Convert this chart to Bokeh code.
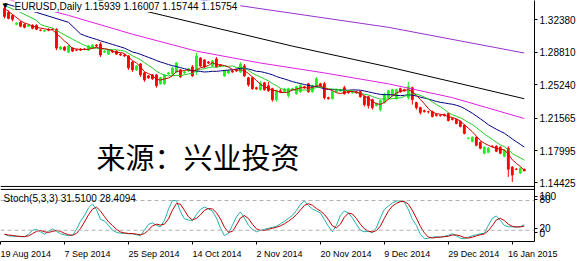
import numpy as np
from bokeh.plotting import figure
from bokeh.models import Range1d, FixedTicker, Label, Span, CustomJSTickFormatter
from bokeh.embed import file_html
from bokeh.resources import INLINE

# ---------------- data (EURUSD daily) ----------------
opens = [
    1.3364, 1.3320, 1.3287, 1.3189, 1.3211, 1.3189, 1.3167, 1.3178, 1.3178, 1.3124,
    1.3113, 1.3134, 1.3134, 1.3134, 1.2916, 1.2938, 1.2883, 1.2927, 1.2905, 1.2916,
    1.2916, 1.2905, 1.2927, 1.2960, 1.2971, 1.2883, 1.2861, 1.2894, 1.2894, 1.2861,
    1.2851, 1.2840, 1.2774, 1.2687, 1.2752, 1.2654, 1.2621, 1.2632, 1.2632, 1.2534,
    1.2534, 1.2643, 1.2643, 1.2665, 1.2687, 1.2654, 1.2676, 1.2720, 1.2665, 1.2818,
    1.2796, 1.2774, 1.2731, 1.2807, 1.2741, 1.2621, 1.2654, 1.2676, 1.2687, 1.2665,
    1.2731, 1.2600, 1.2600, 1.2491, 1.2469, 1.2545, 1.2512, 1.2480, 1.2360, 1.2458,
    1.2447, 1.2403, 1.2469, 1.2425, 1.2447, 1.2502, 1.2534, 1.2447, 1.2513, 1.2534,
    1.2534, 1.2382, 1.2371, 1.2447, 1.2458, 1.2491, 1.2447, 1.2436, 1.2447, 1.2447,
    1.2392, 1.2392, 1.2360, 1.2294, 1.2250, 1.2327, 1.2382, 1.2403, 1.2371, 1.2480,
    1.2469, 1.2382, 1.2491, 1.2327, 1.2272, 1.2239, 1.2228, 1.2228, 1.2196, 1.2185,
    1.2196, 1.2207, 1.2152, 1.2141, 1.2119, 1.2076, 1.1934, 1.1901, 1.1945, 1.1890,
    1.1770, 1.1781, 1.1847, 1.1847, 1.1836, 1.1738, 1.1825, 1.1617, 1.1595, 1.1552,
    1.15939]
highs = [
    1.3386, 1.3342, 1.3298, 1.3211, 1.3222, 1.3200, 1.3189, 1.3189, 1.3189, 1.3134,
    1.3124, 1.3145, 1.3145, 1.3145, 1.2949, 1.2949, 1.2960, 1.2938, 1.2916, 1.2927,
    1.2927, 1.2960, 1.2971, 1.2971, 1.2993, 1.2905, 1.2916, 1.2905, 1.2905, 1.2872,
    1.2861, 1.2851, 1.2785, 1.2741, 1.2763, 1.2665, 1.2632, 1.2643, 1.2643, 1.2611,
    1.2643, 1.2665, 1.2720, 1.2774, 1.2698, 1.2676, 1.2709, 1.2741, 1.2873, 1.2829,
    1.2807, 1.2785, 1.2796, 1.2829, 1.2752, 1.2687, 1.2687, 1.2687, 1.2698, 1.2774,
    1.2752, 1.2611, 1.2611, 1.2502, 1.2567, 1.2556, 1.2556, 1.2491, 1.2469, 1.2480,
    1.2491, 1.2491, 1.2491, 1.2513, 1.2534, 1.2513, 1.2545, 1.2524, 1.2611, 1.2545,
    1.2556, 1.2392, 1.2458, 1.2480, 1.2480, 1.2513, 1.2458, 1.2458, 1.2458, 1.2458,
    1.2403, 1.2403, 1.2371, 1.2327, 1.2360, 1.2436, 1.2469, 1.2480, 1.2480, 1.2491,
    1.2480, 1.2556, 1.2502, 1.2338, 1.2283, 1.2250, 1.2239, 1.2239, 1.2207, 1.2196,
    1.2207, 1.2218, 1.2163, 1.2152, 1.2130, 1.2087, 1.1945, 1.1956, 1.1956, 1.1901,
    1.1847, 1.1836, 1.1858, 1.1858, 1.1847, 1.1814, 1.1847, 1.1628, 1.1606, 1.1617,
    1.16007]
lows = [
    1.3254, 1.3244, 1.3222, 1.3178, 1.3156, 1.3145, 1.3156, 1.3134, 1.3124, 1.3113,
    1.3102, 1.3113, 1.3124, 1.2905, 1.2905, 1.2894, 1.2872, 1.2883, 1.2894, 1.2894,
    1.2905, 1.2894, 1.2916, 1.2938, 1.2829, 1.2872, 1.2851, 1.2872, 1.2851, 1.2840,
    1.2829, 1.2687, 1.2665, 1.2676, 1.2611, 1.2556, 1.2589, 1.2578, 1.2491, 1.2524,
    1.2524, 1.2632, 1.2632, 1.2654, 1.2600, 1.2643, 1.2665, 1.2611, 1.2633, 1.2720,
    1.2709, 1.2752, 1.2720, 1.2709, 1.2720, 1.2611, 1.2643, 1.2654, 1.2665, 1.2654,
    1.2611, 1.2502, 1.2469, 1.2469, 1.2458, 1.2458, 1.2447, 1.2338, 1.2338, 1.2436,
    1.2436, 1.2382, 1.2458, 1.2414, 1.2436, 1.2480, 1.2436, 1.2436, 1.2491, 1.2502,
    1.2360, 1.2360, 1.2360, 1.2436, 1.2447, 1.2414, 1.2425, 1.2425, 1.2425, 1.2382,
    1.2283, 1.2261, 1.2250, 1.2283, 1.2228, 1.2316, 1.2371, 1.2392, 1.2360, 1.2436,
    1.2447, 1.2360, 1.2305, 1.2250, 1.2195, 1.2218, 1.2207, 1.2163, 1.2174, 1.2174,
    1.2174, 1.2119, 1.2130, 1.2087, 1.2054, 1.1978, 1.1923, 1.1890, 1.1847, 1.1814,
    1.1759, 1.1770, 1.1836, 1.1781, 1.1759, 1.1727, 1.1508, 1.1454, 1.1584, 1.1541,
    1.15744]
closes = [
    1.3276, 1.3254, 1.3244, 1.3200, 1.3167, 1.3156, 1.3178, 1.3145, 1.3134, 1.3122,
    1.3122, 1.3124, 1.3132, 1.2927, 1.2938, 1.2905, 1.2949, 1.2894, 1.2903, 1.2905,
    1.2914, 1.2949, 1.2960, 1.2949, 1.2851, 1.2894, 1.2905, 1.2883, 1.2861, 1.2851,
    1.2840, 1.2709, 1.2687, 1.2731, 1.2633, 1.2578, 1.2600, 1.2589, 1.2513, 1.2600,
    1.2632, 1.2654, 1.2709, 1.2763, 1.2611, 1.2665, 1.2698, 1.2621, 1.2840, 1.2731,
    1.2720, 1.2763, 1.2785, 1.2720, 1.2731, 1.2676, 1.2676, 1.2665, 1.2676, 1.2752,
    1.2621, 1.2524, 1.2480, 1.2480, 1.2545, 1.2469, 1.2458, 1.2360, 1.2458, 1.2447,
    1.2469, 1.2480, 1.2480, 1.2502, 1.2513, 1.2491, 1.2447, 1.2513, 1.2589, 1.2513,
    1.2382, 1.2371, 1.2447, 1.2469, 1.2469, 1.2425, 1.2436, 1.2447, 1.2436, 1.2392,
    1.2305, 1.2294, 1.2272, 1.2316, 1.2349, 1.2414, 1.2458, 1.2469, 1.2469, 1.2447,
    1.2458, 1.2502, 1.2360, 1.2272, 1.2218, 1.2228, 1.2226, 1.2174, 1.2185, 1.2183,
    1.2185, 1.2130, 1.2141, 1.2098, 1.2065, 1.1989, 1.1936, 1.1945, 1.1858, 1.1825,
    1.1836, 1.1825, 1.1845, 1.1792, 1.1770, 1.1803, 1.1595, 1.1530, 1.1593, 1.1606,
    1.15754]

# moving-average lead-in values (before enough bars exist)
red_lead_idx = [0, 2]
red_lead_val = [1.3364, 1.3298]
green_lead_idx = [0, 4, 8]
green_lead_val = [1.3396, 1.3320, 1.3233]
navy_lead_idx = [0, 8, 16]
navy_lead_val = [1.3418, 1.3320, 1.3211]

# longer moving averages
magenta_idx = [0, 16, 32, 48, 64, 80, 96, 112, 130]
magenta_val = [1.3473, 1.3287, 1.3080, 1.2894, 1.2763, 1.2654, 1.2534, 1.2382, 1.2152]
black_idx = [0, 24, 48, 72, 96, 112, 130]
black_val = [1.3724, 1.3451, 1.3200, 1.2949, 1.2720, 1.2556, 1.2370]
purple_idx = [0, 50, 96, 130]
purple_val = [1.3880, 1.3451, 1.3156, 1.2873]

# Stochastic %K (5,3,3)
stoch_k = [
    12, 9, 8, 8, 7, 7, 12, 20, 22, 17,
    12, 18, 23, 18, 13, 11, 9, 10, 22, 38,
    50, 65, 73, 62, 42, 39, 30, 20, 16, 14,
    14, 13, 13, 11, 9, 20, 32, 35, 30, 27,
    40, 62, 80, 80, 58, 43, 41, 39, 52, 62,
    67, 63, 59, 45, 25, 9, 14, 30, 47, 57,
    45, 30, 22, 17, 20, 22, 24, 26, 28, 33,
    38, 44, 50, 60, 72, 79, 70, 63, 59, 55,
    42, 28, 17, 30, 50, 59, 55, 45, 32, 20,
    17, 18, 15, 25, 45, 62, 69, 75, 79, 79,
    77, 62, 42, 30, 12, 3, 4, 6, 7, 6,
    8, 10, 13, 9, 4, 3, 6, 9, 11, 13,
    14, 30, 44, 49, 40, 30, 27, 27, 26.5, 27.2,
    31.51]

price_ticks = [1.32380, 1.28810, 1.25240, 1.21565, 1.17995, 1.14425]
date_tick_idx = [-1, 15, 31, 47, 63, 79, 95, 111, 127]
date_labels = ["19 Aug 2014", "7 Sep 2014", "25 Sep 2014", "14 Oct 2014", "2 Nov 2014",
               "20 Nov 2014", "9 Dec 2014", "29 Dec 2014", "16 Jan 2015"]
stoch_levels = [20, 80]
stoch_scale_labels = ["100", "80", "20", "0"]

# ---------------- derived series ----------------
O = np.array(opens); H = np.array(highs); L = np.array(lows); C = np.array(closes)
n = len(C)
idx = np.arange(n)


def sma(arr, w):
    return np.convolve(arr, np.ones(w) / w, mode="valid")


def ma_line(w, lead_i, lead_v):
    xs = list(lead_i) + list(range(w - 1, n))
    ys = list(lead_v) + list(sma(C, w))
    return xs, ys


K = np.array(stoch_k, dtype=float)
D = np.array([K[max(0, i - 2):i + 1].mean() for i in range(n)])

# ---------------- layout helpers (pixel -> data for annotations) ----------------
FONT = "Liberation Sans"
FRAME_W, FRAME_H = 534, 243
X0, X1 = -1.0, 132.55
PX_PER_BAR = FRAME_W / (X1 - X0)
P_TOP, P_PER_PX = 1.3451, 0.0010915      # price scale of the upper pane
S_ZERO_PX, S_PER_PX = 241.7, 2.0         # stochastic scale of the lower pane


def px_x(px):
    return X0 + px / PX_PER_BAR


def px_y(py):
    return P_TOP - P_PER_PX * py


def px_s(py):
    return (S_ZERO_PX - py) * S_PER_PX


# approximate Liberation Sans advance widths (em) to centre date labels
CHAR_W = {" ": 0.278, "1": 0.556, "A": 0.667, "S": 0.667, "O": 0.778, "N": 0.722,
          "D": 0.722, "J": 0.5, "c": 0.5, "t": 0.278, "v": 0.5}


def text_w(s, fs):
    return sum(CHAR_W.get(ch, 0.556) for ch in s) * fs


DATE_FS = 9
date_centres = [min(t + text_w(lab, DATE_FS) / 2 / PX_PER_BAR, X1 - 0.45)
                for t, lab in zip(date_tick_idx, date_labels)]

MATCH_JS = """
let best = 0, bd = Infinity;
for (let i = 0; i < vals.length; i++) {
  const d = Math.abs(tick - vals[i]);
  if (d < bd) { bd = d; best = i; }
}
return labs[best];
"""

p = figure(width=579, height=261,
           x_range=Range1d(X0, X1),
           y_range=Range1d(px_y(FRAME_H), P_TOP),
           output_backend="svg", toolbar_location=None,
           x_axis_location="below", y_axis_location="right",
           min_border_left=0, min_border_right=45, min_border_top=0, min_border_bottom=18,
           background_fill_color="white", border_fill_color="white")
p.extra_y_ranges = {"stoch": Range1d(px_s(FRAME_H), px_s(0))}
p.grid.visible = False
p.outline_line_color = None

# right scale: price labels of the upper pane + scale labels of the stochastic pane
right_ticks = price_ticks + [px_y(v) for v in (197.5, 200.5, 229.5, 234.0)]
right_labels = ["%.5f" % t for t in price_ticks] + stoch_scale_labels
ya = p.yaxis[0]
ya.ticker = FixedTicker(ticks=right_ticks)
ya.formatter = CustomJSTickFormatter(args=dict(vals=right_ticks, labs=right_labels),
                                     code=MATCH_JS)
ya.major_tick_in = 0
ya.major_tick_out = 3
ya.minor_tick_out = 0
ya.minor_tick_in = 0
ya.major_label_standoff = 2
ya.major_label_text_font = FONT
ya.major_label_text_font_size = "10px"
ya.major_label_text_color = "black"
ya.axis_line_color = "black"

xa = p.xaxis[0]
xa.ticker = FixedTicker(ticks=date_centres, minor_ticks=date_tick_idx)
xa.formatter = CustomJSTickFormatter(args=dict(vals=date_centres, labs=date_labels),
                                     code=MATCH_JS)
xa.major_label_text_font = FONT
xa.major_label_text_font_size = "%dpx" % DATE_FS
xa.major_label_text_color = "black"
xa.major_label_standoff = 4
xa.major_tick_in = 0
xa.major_tick_out = 0
xa.minor_tick_in = 0
xa.minor_tick_out = 3
xa.axis_line_color = "black"

# separator between the two panes (double line)
p.add_layout(Span(location=px_y(187.5), dimension="width", line_color="black", line_width=1))
p.add_layout(Span(location=px_s(190.5), dimension="width", line_color="black",
                  line_width=1, y_range_name="stoch"))

# ---------------- candles ----------------
bull = C >= O
cols = np.where(bull, "#22ee22", "#ff0000")
p.segment(x0=idx, y0=L, x1=idx, y1=H, line_color=cols, line_width=1)
p.vbar(x=idx, width=0.45, top=np.maximum(O, C), bottom=np.minimum(O, C),
       fill_color=cols, line_color=cols, line_width=1)

# ---------------- moving averages ----------------
p.line(purple_idx, purple_val, line_color="#9932cc", line_width=1)
p.line(black_idx, black_val, line_color="black", line_width=1)
p.line(magenta_idx, magenta_val, line_color="#e020e0", line_width=1)
nx, ny = ma_line(20, navy_lead_idx, navy_lead_val)
p.line(nx, ny, line_color="#000080", line_width=1)
gx, gy = ma_line(10, green_lead_idx, green_lead_val)
p.line(gx, gy, line_color="#22cc22", line_width=1)
rx, ry = ma_line(5, red_lead_idx, red_lead_val)
p.line(rx, ry, line_color="#cc0000", line_width=1)

# ---------------- stochastic ----------------
for lv in stoch_levels:
    p.add_layout(Span(location=lv, dimension="width", line_color="#b0b0b0",
                      line_dash="4 3", line_width=1, y_range_name="stoch"))
p.line(idx, K, line_color="#20b2aa", line_width=1, y_range_name="stoch")
p.line(idx, D, line_color="#c00000", line_width=1, y_range_name="stoch")

# ---------------- texts ----------------
p.add_layout(Label(x=px_x(2), y=px_y(6), text="\u25BC", text_font="DejaVu Sans",
                   text_font_size="7px", text_baseline="middle", text_color="black"))
p.add_layout(Label(x=px_x(14), y=px_y(6),
                   text="EURUSD,Daily  1.15939 1.16007 1.15744 1.15754",
                   text_font=FONT, text_font_size="10px", text_baseline="middle",
                   text_color="black", background_fill_color="white"))
p.add_layout(Label(x=px_x(96), y=px_y(157), text="来源：兴业投资",
                   text_font="Noto Sans CJK SC", text_font_size="29px",
                   text_baseline="middle", text_color="black"))
p.add_layout(Label(x=px_x(536), y=closes[-1], text="1.15754", text_font=FONT,
                   text_font_size="10px", text_baseline="middle", text_color="white",
                   background_fill_color="black", padding=2))
p.add_layout(Label(x=px_x(3), y=px_s(200), y_range_name="stoch",
                   text="Stoch(5,3,3) 31.5100 28.4094",
                   text_font=FONT, text_font_size="10px", text_baseline="middle",
                   text_color="black"))

open("out.html", "w").write(file_html(p, INLINE))
